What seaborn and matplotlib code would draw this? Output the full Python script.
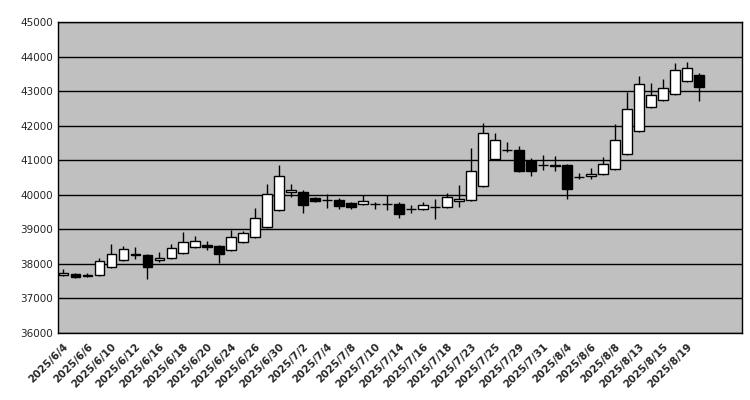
import matplotlib
matplotlib.use("Agg")
import matplotlib.pyplot as plt
import seaborn as sns
import numpy as np

tick_labels = ["2025/6/4","2025/6/6","2025/6/10","2025/6/12","2025/6/16","2025/6/18","2025/6/20",
               "2025/6/24","2025/6/26","2025/6/30","2025/7/2","2025/7/4","2025/7/8","2025/7/10",
               "2025/7/14","2025/7/16","2025/7/18","2025/7/23","2025/7/25","2025/7/29","2025/7/31",
               "2025/8/4","2025/8/6","2025/8/8","2025/8/13","2025/8/15","2025/8/19"]

opens  = [37680,37710,37660,37680,37910,38110,38290,38260,38100,38170,38310,38490,38560,38510,38400,38630,38780,39070,39560,40080,
          40080,39900,39850,39850,39760,39720,39730,39730,39730,39590,39590,39650,39650,39820,39850,40250,41040,41300,
          41300,40990,40860,40840,40860,40520,40540,40600,40750,41180,41850,42540,42740,42920,43290,43470]
closes = [37740,37620,37660,38080,38290,38430,38260,37910,38180,38460,38630,38660,38490,38280,38790,38880,39330,40020,40540,40130,
          39700,39820,39850,39680,39650,39810,39730,39730,39440,39590,39700,39650,39940,39880,40690,41790,41580,41300,
          40690,40700,40860,40840,40170,40520,40610,40890,41580,42480,43210,42890,43090,43610,43670,43120]
highs  = [37850,37750,37750,38180,38590,38530,38480,38300,38340,38570,38910,38820,38650,38550,38970,38950,39620,40300,40850,40300,
          40150,39950,40020,39900,39800,39990,39800,39980,39780,39700,39800,39880,40050,40280,41350,42080,41780,41530,
          41400,41050,41150,41130,40900,40620,40770,41100,42050,42980,43440,43230,43350,43810,43850,43520]
lows   = [37650,37580,37620,37650,37880,38080,38130,37560,38050,38150,38280,38450,38400,38040,38380,38600,38750,39050,39540,39950,
          39470,39780,39620,39600,39580,39690,39600,39550,39340,39480,39560,39310,39620,39640,39820,40220,41000,41250,
          40650,40540,40710,40700,39880,40450,40450,40580,40730,41150,41820,42500,42700,42900,43250,42720]

sns.set_style("white")
fig = plt.figure(figsize=(7.5, 4), dpi=100)
ax = fig.add_axes([58/750, 1-333/400, 684/750, 311/400])
ax.set_facecolor("#C0C0C0")

x = np.arange(len(opens))
o = np.array(opens); c = np.array(closes)
bottom = np.minimum(o, c)
height = np.maximum(np.abs(c - o), 8)
colors = np.where(c >= o, "white", "black")
ax.vlines(x, lows, highs, color="black", linewidth=1, zorder=2)
ax.bar(x, height, bottom=bottom, width=0.8, color=colors, edgecolor="black", linewidth=1, zorder=3)

ax.set_ylim(36000, 45000)
ax.set_yticks(np.arange(36000, 45001, 1000))
ax.yaxis.grid(True, color="black", linewidth=1)
ax.set_axisbelow(True)
ax.set_xlim(-0.45, 56.6)
ax.set_xticks(x[::2])
ax.set_xticklabels(tick_labels, rotation=45, ha="right", rotation_mode="anchor", fontsize=7.5, fontweight="bold")
ax.tick_params(axis="y", labelsize=7.5, length=0)
ax.tick_params(axis="x", length=0, pad=6)
for s in ax.spines.values():
    s.set_color("black"); s.set_linewidth(1)
fig.savefig("out.png", dpi=100)
